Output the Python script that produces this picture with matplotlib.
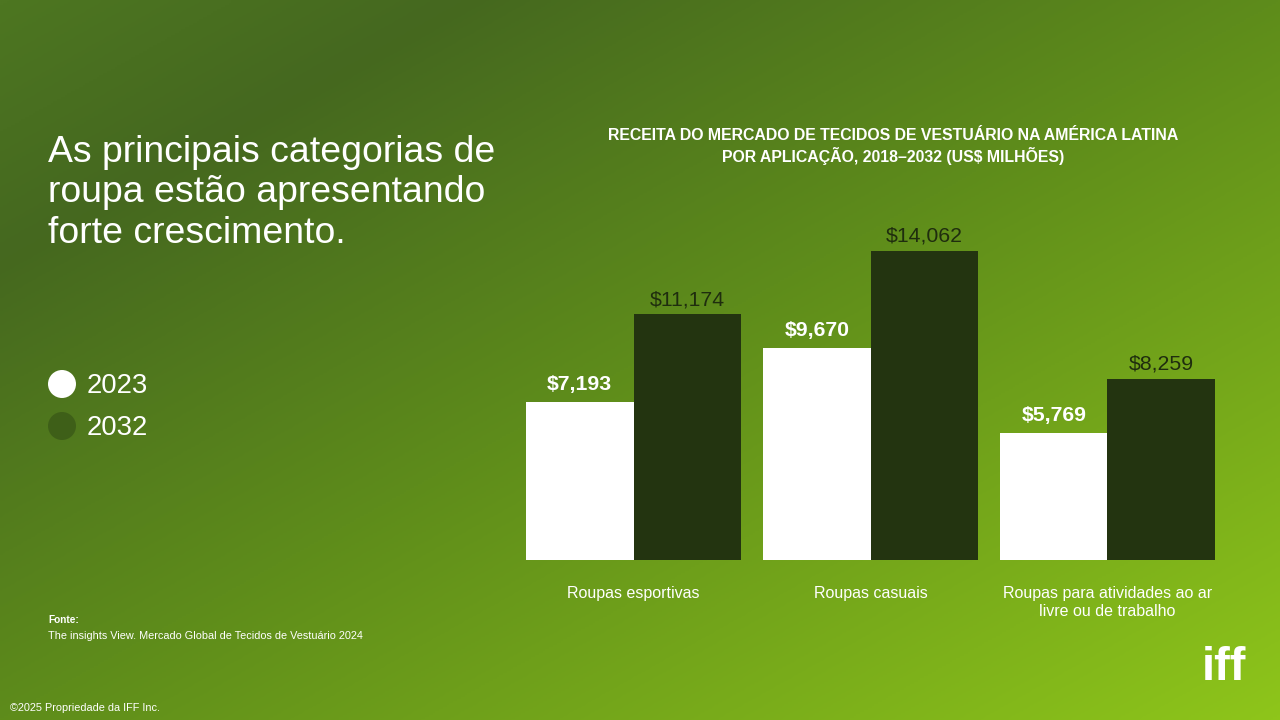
import numpy as np
import matplotlib
matplotlib.use("Agg")
import matplotlib.pyplot as plt
from matplotlib.colors import LinearSegmentedColormap
from matplotlib.patches import Ellipse

plt.rcParams['font.family'] = ['Liberation Sans', 'DejaVu Sans']

# ---- data ----
categories = ["Roupas esportivas", "Roupas casuais",
              "Roupas para atividades ao ar\nlivre ou de trabalho"]
years = ["2023", "2032"]
values_2023 = [7193, 9670, 5769]
values_2032 = [11174, 14062, 8259]
title_lines = ["RECEITA DO MERCADO DE TECIDOS DE VESTUÁRIO NA AMÉRICA LATINA",
               "POR APLICAÇÃO, 2018–2032 (US$ MILHÕES)"]
headline = ["As principais categorias de", "roupa estão apresentando", "forte crescimento."]

W, H = 1280, 720
fig = plt.figure(figsize=(12.8, 7.2), dpi=100)

# ---- gradient background ----
bg = fig.add_axes([0, 0, 1, 1], zorder=-10)
xx, yy = np.meshgrid(np.linspace(0, 1, 640), np.linspace(0, 1, 360))
t = (xx + yy) / 2.0
cmap = LinearSegmentedColormap.from_list(
    "bg", [(0.0, "#4d7621"), (0.18, "#45681f"), (0.5, "#5e8c1b"), (1.0, "#8ec51a")])
bg.imshow(t, cmap=cmap, vmin=0, vmax=1, aspect="auto", extent=[0, 1, 1, 0],
          interpolation="bilinear")
bg.set_xlim(0, 1)
bg.set_ylim(1, 0)
bg.axis("off")

# ---- bar chart ----
left, right, bottom_px = 526, 1215, 560
ymax = 15000
px_per_unit = 309.0 / 14062
height_px = ymax * px_per_unit
ax = fig.add_axes([left / W, 1 - bottom_px / H, (right - left) / W, height_px / H])
ax.patch.set_alpha(0)
x = np.arange(len(categories))
w = 0.4536
c23, c32 = "#ffffff", "#233410"
ax.bar(x - w / 2, values_2023, w, color=c23, linewidth=0)
ax.bar(x + w / 2, values_2032, w, color=c32, linewidth=0)
for xi, v in zip(x - w / 2, values_2023):
    ax.annotate(f"${v:,}", (xi, v), xytext=(0, 8.5), textcoords="offset points",
                ha="center", va="baseline", fontsize=15.3, fontweight="bold", color="white")
for xi, v in zip(x + w / 2, values_2032):
    ax.annotate(f"${v:,}", (xi, v), xytext=(0, 6.5), textcoords="offset points",
                ha="center", va="baseline", fontsize=15.3, color="#1f2d0e")
ax.set_xlim(-w, len(categories) - 1 + w)
ax.set_ylim(0, ymax)
ax.set_xticks(x)
ax.set_xticklabels(categories, fontsize=11.5, color="white", linespacing=1.3)
ax.tick_params(axis="x", length=0, pad=18.5)
ax.set_yticks([])
for s in ax.spines.values():
    s.set_visible(False)

# ---- title ----
for i, line in enumerate(title_lines):
    fig.text(893 / W, 1 - (135 + 21 * i) / H, line, ha="center", va="center",
             fontsize=11.4, fontweight="bold", color="white")

# ---- headline ----
for i, line in enumerate(headline):
    fig.text(48 / W, 1 - (162 + 40.5 * i) / H, line, ha="left", va="baseline",
             fontsize=26.9, color="white")

# ---- legend ----
leg_colors = ["#ffffff", "#3e5f18"]
for i, (yr, col) in enumerate(zip(years, leg_colors)):
    cy = 384 + 42 * i
    fig.patches.append(Ellipse((62 / W, 1 - cy / H), 28 / W, 28 / H,
                               transform=fig.transFigure, facecolor=col, edgecolor="none"))
    fig.text(87 / W, 1 - (cy + 2) / H, yr, ha="left", va="center", fontsize=19.8, color="white")

# ---- source / footer ----
fig.text(48 / W, 1 - 623 / H, "Fonte:", ha="left", va="baseline", fontsize=7.3,
         fontweight="bold", color="white")
fig.text(48 / W, 1 - 639 / H, "The insights View. Mercado Global de Tecidos de Vestuário 2024",
         ha="left", va="baseline", fontsize=7.8, color="white")
fig.text(10 / W, 1 - 711 / H, "©2025 Propriedade da IFF Inc.", ha="left", va="baseline",
         fontsize=7.8, color="white")
fig.text(1224 / W, 1 - 680 / H, "iff", ha="center", va="baseline", fontsize=34,
         fontweight="bold", color="white")

fig.savefig("out.png", dpi=100)
